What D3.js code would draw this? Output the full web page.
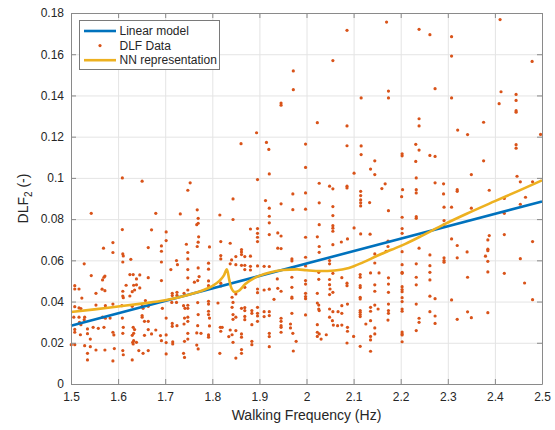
<!DOCTYPE html>
<html lang="en">

<head>
    <script src="https://d3js.org/d3.v7.min.js"></script>
    <meta charset="utf-8" />
    <style>
        body { margin: 0; background: #fff; }
        text { font-family: "Liberation Sans", Arial, Helvetica, sans-serif; fill: #262626; }
    </style>
</head>

<body>
    <script>

        const w = 555;
        const h = 430;
        const margin = { top: 13, right: 13, bottom: 46, left: 71 };

        // axis ticks
        const xTicks = [1.5, 1.6, 1.7, 1.8, 1.9, 2.0, 2.1, 2.2, 2.3, 2.4, 2.5];
        const yTicks = [0, 0.02, 0.04, 0.06, 0.08, 0.1, 0.12, 0.14, 0.16, 0.18];

        // linear model end points
        const linFreq = [1.5, 2.5];
        const linDlf = [0.0283, 0.0886];

        // NN representation
        const nnFreq = [1.5, 1.55, 1.6, 1.65, 1.7, 1.75, 1.78, 1.8, 1.815, 1.825, 1.831, 1.836, 1.84, 1.848, 1.856,
            1.87, 1.89, 1.92, 1.95, 1.98, 2.0, 2.03, 2.06, 2.09, 2.12, 2.15, 2.18, 2.21, 2.25, 2.29, 2.34, 2.4, 2.45, 2.5];
        const nnDlf = [0.0349, 0.0362, 0.0376, 0.0390, 0.0406, 0.0433, 0.0455, 0.0475, 0.0500, 0.0528, 0.0557, 0.0505,
            0.0468, 0.0446, 0.0452, 0.0485, 0.0515, 0.0540, 0.0553, 0.0556, 0.0552, 0.0548, 0.0551, 0.0563, 0.0590,
            0.0622, 0.0651, 0.0680, 0.0725, 0.0772, 0.0826, 0.0887, 0.0937, 0.0988];

        // DLF data [frequency, dlf]
        const dlfData = [
            [1.609, 0.1000], [1.651, 0.0984], [1.543, 0.0828], [1.609, 0.0749], [1.589, 0.0686], [1.569, 0.0659],
            [1.589, 0.0638], [1.610, 0.0631], [1.611, 0.0621], [1.610, 0.0592], [1.627, 0.0605], [1.664, 0.0662],
            [1.528, 0.0583], [1.543, 0.0526], [1.572, 0.0524], [1.570, 0.0518], [1.567, 0.0505], [1.625, 0.0531],
            [1.632, 0.0531], [1.646, 0.0529], [1.639, 0.0510], [1.664, 0.0516], [1.508, 0.0477], [1.508, 0.0461],
            [1.517, 0.0461], [1.566, 0.0460], [1.572, 0.0453], [1.617, 0.0479], [1.633, 0.0479], [1.639, 0.0481],
            [1.635, 0.0456], [1.630, 0.0448], [1.646, 0.0466], [1.610, 0.0450], [1.610, 0.0427], [1.625, 0.0427],
            [1.611, 0.0419], [1.523, 0.0417], [1.553, 0.0440], [1.658, 0.0405], [1.508, 0.0375], [1.517, 0.0369],
            [1.521, 0.0366], [1.553, 0.0383], [1.573, 0.0380], [1.589, 0.0388], [1.608, 0.0380], [1.630, 0.0377],
            [1.651, 0.0377], [1.653, 0.0367], [1.664, 0.0377], [1.506, 0.0324], [1.517, 0.0324], [1.529, 0.0324],
            [1.528, 0.0312], [1.567, 0.0324], [1.573, 0.0319], [1.583, 0.0320], [1.609, 0.0320], [1.651, 0.0332],
            [1.651, 0.0324], [1.656, 0.0304], [1.664, 0.0304], [1.518, 0.0299], [1.521, 0.0288], [1.547, 0.0275],
            [1.558, 0.0270], [1.570, 0.0275], [1.508, 0.0265], [1.508, 0.0251], [1.535, 0.0267], [1.589, 0.0251],
            [1.611, 0.0275], [1.632, 0.0275], [1.635, 0.0264], [1.610, 0.0246], [1.633, 0.0246], [1.520, 0.0239],
            [1.535, 0.0244], [1.591, 0.0238], [1.541, 0.0218], [1.630, 0.0236], [1.656, 0.0236], [1.664, 0.0264],
            [1.633, 0.0210], [1.631, 0.0202], [1.639, 0.0202], [1.632, 0.0194], [1.5005, 0.0191], [1.508, 0.0191],
            [1.529, 0.0186], [1.541, 0.0181], [1.553, 0.0165], [1.572, 0.0165], [1.592, 0.0172], [1.610, 0.0162],
            [1.644, 0.0162], [1.664, 0.0162], [1.535, 0.0149], [1.611, 0.0142], [1.653, 0.0149], [1.535, 0.0117],
            [1.589, 0.0112], [1.630, 0.0117],
            [1.753, 0.0976], [1.748, 0.0940], [1.680, 0.0828], [1.732, 0.0825], [1.768, 0.0845], [1.770, 0.0804],
            [1.770, 0.0780], [1.767, 0.0773], [1.816, 0.0820], [1.671, 0.0748], [1.702, 0.0738], [1.702, 0.0696],
            [1.771, 0.0714], [1.770, 0.0688], [1.768, 0.0667], [1.745, 0.0678], [1.748, 0.0638], [1.748, 0.0607],
            [1.794, 0.0665], [1.692, 0.0670], [1.692, 0.0644], [1.692, 0.0592], [1.724, 0.0599], [1.726, 0.0579],
            [1.712, 0.0555], [1.748, 0.0555], [1.770, 0.0563], [1.792, 0.0586], [1.792, 0.0557], [1.818, 0.0691],
            [1.818, 0.0623], [1.818, 0.0607], [1.838, 0.0683], [1.692, 0.0502], [1.748, 0.0515], [1.762, 0.0494],
            [1.769, 0.0502], [1.772, 0.0521], [1.792, 0.0500], [1.792, 0.0477], [1.818, 0.0489], [1.818, 0.0476],
            [1.715, 0.0440], [1.715, 0.0429], [1.725, 0.0445], [1.725, 0.0430], [1.740, 0.0440], [1.748, 0.0456],
            [1.694, 0.0367], [1.714, 0.0396], [1.724, 0.0396], [1.739, 0.0380], [1.748, 0.0382], [1.748, 0.0367],
            [1.742, 0.0367], [1.769, 0.0395], [1.792, 0.0401], [1.792, 0.0388], [1.812, 0.0393], [1.770, 0.0337],
            [1.792, 0.0353], [1.792, 0.0337], [1.794, 0.0320], [1.702, 0.0320], [1.741, 0.0320], [1.748, 0.0324],
            [1.715, 0.0294], [1.715, 0.0280], [1.725, 0.0283], [1.740, 0.0291], [1.748, 0.0304], [1.769, 0.0283],
            [1.794, 0.0282], [1.817, 0.0275], [1.821, 0.0275], [1.818, 0.0256], [1.680, 0.0262], [1.671, 0.0243],
            [1.690, 0.0235], [1.702, 0.0238], [1.692, 0.0210], [1.702, 0.0201], [1.716, 0.0204], [1.716, 0.0194],
            [1.741, 0.0207], [1.748, 0.0246], [1.748, 0.0218], [1.767, 0.0248], [1.776, 0.0246], [1.792, 0.0238],
            [1.792, 0.0227], [1.835, 0.0230], [1.702, 0.0146], [1.739, 0.0149], [1.741, 0.0129], [1.767, 0.0189],
            [1.770, 0.0170], [1.816, 0.0149],
            [1.896, 0.0992], [1.921, 0.1019], [1.844, 0.0898], [1.971, 0.0922], [1.998, 0.0927], [1.913, 0.0890],
            [1.946, 0.0874], [1.921, 0.0853], [1.921, 0.0814], [1.921, 0.0782], [1.844, 0.0798], [1.971, 0.0846],
            [1.998, 0.0848], [1.881, 0.0752], [1.896, 0.0754], [1.896, 0.0731], [1.896, 0.0712], [1.896, 0.0691],
            [1.921, 0.0725], [1.939, 0.0733], [1.946, 0.0718], [1.862, 0.0652], [1.862, 0.0641], [1.862, 0.0628],
            [1.850, 0.0618], [1.841, 0.0602], [1.869, 0.0618], [1.881, 0.0620], [1.939, 0.0659], [1.946, 0.0657],
            [1.969, 0.0607], [1.969, 0.0597], [1.998, 0.0712], [1.998, 0.0615], [1.838, 0.0583], [1.850, 0.0579],
            [1.862, 0.0576], [1.869, 0.0576], [1.869, 0.0555], [1.881, 0.0571], [1.881, 0.0553], [1.896, 0.0573],
            [1.910, 0.0571], [1.921, 0.0570], [1.969, 0.0563], [1.998, 0.0573], [1.938, 0.0510], [1.969, 0.0518],
            [1.998, 0.0502], [1.998, 0.0485], [1.842, 0.0421], [1.850, 0.0437], [1.869, 0.0469], [1.896, 0.0461],
            [1.896, 0.0443], [1.910, 0.0456], [1.921, 0.0460], [1.939, 0.0464], [1.946, 0.0450], [1.969, 0.0469],
            [1.969, 0.0422], [1.969, 0.0416], [1.931, 0.0411], [1.998, 0.0440], [1.998, 0.0424], [1.998, 0.0414],
            [1.844, 0.0396], [1.842, 0.0372], [1.862, 0.0367], [1.869, 0.0371], [1.869, 0.0356], [1.884, 0.0356],
            [1.884, 0.0343], [1.896, 0.0372], [1.896, 0.0343], [1.896, 0.0330], [1.910, 0.0351], [1.910, 0.0327],
            [1.921, 0.0351], [1.921, 0.0332], [1.946, 0.0319], [1.969, 0.0343], [1.998, 0.0335], [1.844, 0.0337],
            [1.844, 0.0314], [1.850, 0.0324], [1.869, 0.0328], [1.869, 0.0312], [1.884, 0.0288], [1.896, 0.0304],
            [1.921, 0.0246], [1.921, 0.0230], [1.946, 0.0304], [1.946, 0.0283], [1.946, 0.0275], [1.946, 0.0251],
            [1.966, 0.0291], [1.966, 0.0272], [1.971, 0.0246], [1.978, 0.0207], [1.838, 0.0262], [1.842, 0.0239],
            [1.850, 0.0259], [1.862, 0.0243], [1.844, 0.0202], [1.862, 0.0227], [1.884, 0.0207], [1.884, 0.0191],
            [1.921, 0.0181], [1.972, 0.0160], [1.862, 0.0167], [1.862, 0.0149], [1.850, 0.0126],
            [2.101, 0.1023], [2.145, 0.1016], [2.027, 0.0974], [2.049, 0.0960], [2.056, 0.0947], [2.086, 0.0960],
            [2.086, 0.0951], [2.167, 0.0971], [2.160, 0.0948], [2.115, 0.0935], [2.115, 0.0914], [2.115, 0.0893],
            [2.115, 0.0879], [2.115, 0.0864], [2.134, 0.0880], [2.027, 0.0879], [2.056, 0.0861], [2.056, 0.0817],
            [2.174, 0.0841], [2.027, 0.0773], [2.056, 0.0768], [2.056, 0.0756], [2.056, 0.0741], [2.101, 0.0757],
            [2.115, 0.0728], [2.135, 0.0727], [2.023, 0.0714], [2.087, 0.0704], [2.074, 0.0689], [2.056, 0.0676],
            [2.027, 0.0667], [2.027, 0.0639], [2.169, 0.0644], [2.145, 0.0631], [2.049, 0.0599], [2.049, 0.0583],
            [2.026, 0.0542], [2.026, 0.0508], [2.049, 0.0507], [2.049, 0.0482], [2.056, 0.0537], [2.075, 0.0516],
            [2.086, 0.0489], [2.086, 0.0477], [2.114, 0.0531], [2.114, 0.0518], [2.136, 0.0539], [2.145, 0.0587],
            [2.154, 0.0539], [2.174, 0.0515], [2.050, 0.0461], [2.056, 0.0445], [2.049, 0.0434], [2.023, 0.0440],
            [2.114, 0.0477], [2.114, 0.0468], [2.114, 0.0421], [2.114, 0.0413], [2.145, 0.0481], [2.145, 0.0450],
            [2.174, 0.0485], [2.174, 0.0445], [2.023, 0.0393], [2.026, 0.0383], [2.026, 0.0364], [2.027, 0.0356],
            [2.049, 0.0364], [2.056, 0.0351], [2.067, 0.0351], [2.075, 0.0380], [2.087, 0.0388], [2.075, 0.0343],
            [2.114, 0.0356], [2.114, 0.0348], [2.114, 0.0337], [2.114, 0.0327], [2.136, 0.0372], [2.136, 0.0353],
            [2.145, 0.0383], [2.152, 0.0364], [2.174, 0.0388], [2.174, 0.0356], [2.174, 0.0343], [2.055, 0.0307],
            [2.057, 0.0286], [2.066, 0.0283], [2.075, 0.0286], [2.049, 0.0324], [2.023, 0.0288], [2.023, 0.0251],
            [2.023, 0.0231], [2.027, 0.0243], [2.031, 0.0218], [2.042, 0.0239], [2.087, 0.0275], [2.087, 0.0256],
            [2.100, 0.0231], [2.126, 0.0291], [2.136, 0.0307], [2.136, 0.0231], [2.136, 0.0214], [2.145, 0.0272],
            [2.145, 0.0243], [2.086, 0.0199], [2.114, 0.0183], [2.136, 0.0159],
            [2.233, 0.1000], [2.273, 0.0976], [2.291, 0.0971], [2.204, 0.0943], [2.233, 0.0943], [2.233, 0.0927],
            [2.202, 0.0909], [2.291, 0.0922], [2.320, 0.0943], [2.320, 0.0935], [2.292, 0.0858], [2.308, 0.0858],
            [2.203, 0.0809], [2.233, 0.0812], [2.233, 0.0804], [2.292, 0.0793], [2.292, 0.0773], [2.203, 0.0754],
            [2.203, 0.0731], [2.308, 0.0704], [2.320, 0.0672], [2.341, 0.0641], [2.173, 0.0693], [2.173, 0.0667],
            [2.203, 0.0642], [2.239, 0.0659], [2.262, 0.0626], [2.292, 0.0612], [2.292, 0.0599], [2.292, 0.0591],
            [2.320, 0.0612], [2.203, 0.0579], [2.233, 0.0583], [2.262, 0.0574], [2.203, 0.0542], [2.203, 0.0537],
            [2.262, 0.0542], [2.233, 0.0518], [2.233, 0.0481], [2.262, 0.0505], [2.342, 0.0518], [2.203, 0.0472],
            [2.203, 0.0458], [2.203, 0.0448], [2.203, 0.0419], [2.203, 0.0400], [2.203, 0.0364], [2.203, 0.0353],
            [2.262, 0.0426], [2.273, 0.0414], [2.308, 0.0408], [2.262, 0.0351], [2.273, 0.0330], [2.239, 0.0319],
            [2.239, 0.0299], [2.273, 0.0294], [2.233, 0.0259], [2.320, 0.0314], [2.342, 0.0350], [2.203, 0.0252],
            [2.203, 0.0243], [2.203, 0.0238], [2.203, 0.0205], [2.173, 0.0310], [2.233, 0.0388],
            [2.350, 0.1016], [2.447, 0.1008], [2.454, 0.0981], [2.480, 0.0981], [2.388, 0.0940], [2.420, 0.0900],
            [2.465, 0.0906], [2.350, 0.0853], [2.454, 0.0872], [2.420, 0.0828], [2.388, 0.0720], [2.420, 0.0725],
            [2.480, 0.0691], [2.385, 0.0699], [2.385, 0.0654], [2.385, 0.0647], [2.380, 0.0620], [2.385, 0.0595],
            [2.454, 0.0608], [2.385, 0.0544], [2.420, 0.0537], [2.463, 0.0490], [2.480, 0.0409], [2.350, 0.0322],
            [2.385, 0.0346],
            [2.411, 0.1768], [2.170, 0.1756], [2.239, 0.1721], [2.262, 0.1695], [2.308, 0.1685], [2.086, 0.1716],
            [2.056, 0.1569], [1.972, 0.1519], [2.308, 0.1591], [2.479, 0.1565], [1.972, 0.1428], [2.174, 0.1421],
            [2.273, 0.1433], [2.413, 0.1418], [1.946, 0.1363], [1.946, 0.1353], [2.116, 0.1388], [2.174, 0.1388],
            [2.308, 0.1388], [2.409, 0.1360], [2.445, 0.1405], [2.445, 0.1376], [2.445, 0.1326], [2.445, 0.1319],
            [2.023, 0.1268], [2.086, 0.1252], [2.239, 0.1287], [2.239, 0.1252], [2.321, 0.1232], [2.342, 0.1210],
            [2.376, 0.1270], [2.497, 0.1211], [1.998, 0.1164], [2.086, 0.1156], [2.116, 0.1155], [2.116, 0.1113],
            [2.203, 0.1117], [2.203, 0.1107], [2.232, 0.1163], [2.239, 0.1135], [2.232, 0.1080], [2.262, 0.1109],
            [2.273, 0.1104], [2.445, 0.1161], [2.445, 0.1144], [1.998, 0.1051], [2.136, 0.1043], [2.376, 0.1083],
            [2.145, 0.1083], [1.894, 0.1219], [1.861, 0.1166], [1.915, 0.1172], [1.920, 0.1138]
        ];

        const xScale = d3.scaleLinear()
            .domain([1.5, 2.5])
            .range([margin.left, w - margin.right])

        const yScale = d3.scaleLinear()
            .domain([0, 0.18])
            .range([h - margin.bottom, margin.top])

        const svg = d3.select("body")
            .append("svg")
            .attr("width", w)
            .attr("height", h);

        const axisColor = "#8a8a8a";
        const gridColor = "#e4e4e4";
        const fmtX = d => String(+d.toFixed(1));
        const fmtY = d => String(+d.toFixed(2));

        // grid
        svg.append("g")
            .attr("transform", "translate(0," + (h - margin.bottom) + ")")
            .call(d3.axisBottom(xScale).tickValues(xTicks).tickSize(-(h - margin.top - margin.bottom)).tickFormat(""))
            .call(g => g.select(".domain").remove())
            .call(g => g.selectAll("line").attr("stroke", gridColor))

        svg.append("g")
            .attr("transform", "translate(" + margin.left + ",0)")
            .call(d3.axisLeft(yScale).tickValues(yTicks).tickSize(-(w - margin.left - margin.right)).tickFormat(""))
            .call(g => g.select(".domain").remove())
            .call(g => g.selectAll("line").attr("stroke", gridColor))

        // DLF data points
        svg.append("g")
            .selectAll("circle")
            .data(dlfData)
            .enter()
            .append("circle")
            .attr("cx", d => xScale(d[0]))
            .attr("cy", d => yScale(d[1]))
            .attr("r", 1.6)
            .attr("fill", "#D95319")

        const line = d3.line()
            .x(d => xScale(d[0]))
            .y(d => yScale(d[1]))

        svg.append("path")
            .datum(linFreq.map((f, i) => [f, linDlf[i]]))
            .attr("d", line)
            .attr("fill", "none")
            .attr("stroke", "#0072BD")
            .attr("stroke-width", 2.6)

        svg.append("path")
            .datum(nnFreq.map((f, i) => [f, nnDlf[i]]))
            .attr("d", line.curve(d3.curveMonotoneX))
            .attr("fill", "none")
            .attr("stroke", "#EDB120")
            .attr("stroke-width", 2.6)
            .attr("stroke-linejoin", "round")

        // axes, ticks pointing inwards on all four sides
        const styleAxis = g => {
            g.select(".domain").attr("stroke", axisColor);
            g.selectAll(".tick line").attr("stroke", axisColor);
            g.selectAll(".tick text").style("font-size", "12px").attr("fill", "#262626");
        }

        svg.append("g")
            .attr("transform", "translate(0," + (h - margin.bottom) + ")")
            .call(d3.axisBottom(xScale).tickValues(xTicks).tickFormat(fmtX).tickSizeOuter(0).tickSizeInner(-5).tickPadding(8))
            .call(styleAxis)

        svg.append("g")
            .attr("transform", "translate(0," + margin.top + ")")
            .call(d3.axisTop(xScale).tickValues(xTicks).tickFormat("").tickSizeOuter(0).tickSizeInner(-5))
            .call(styleAxis)

        svg.append("g")
            .attr("transform", "translate(" + margin.left + ",0)")
            .call(d3.axisLeft(yScale).tickValues(yTicks).tickFormat(fmtY).tickSizeOuter(0).tickSizeInner(-5).tickPadding(7))
            .call(styleAxis)

        svg.append("g")
            .attr("transform", "translate(" + (w - margin.right) + ",0)")
            .call(d3.axisRight(yScale).tickValues(yTicks).tickFormat("").tickSizeOuter(0).tickSizeInner(-5))
            .call(styleAxis)

        // axis titles
        svg.append("text")
            .attr("x", (margin.left + w - margin.right) / 2)
            .attr("y", 420)
            .attr("text-anchor", "middle")
            .style("font-size", "14px")
            .text("Walking Frequency (Hz)")

        const yTitle = svg.append("text")
            .attr("transform", "translate(28," + ((margin.top + h - margin.bottom) / 2) + ") rotate(-90)")
            .attr("text-anchor", "middle")
            .style("font-size", "14px")
        yTitle.append("tspan").text("DLF")
        yTitle.append("tspan").attr("dy", 4).style("font-size", "10px").text("2")
        yTitle.append("tspan").attr("dy", -4).text(" (-)")

        // legend
        const legend = svg.append("g")
        legend.append("rect")
            .attr("x", 79.5)
            .attr("y", 20.5)
            .attr("width", 140)
            .attr("height", 49)
            .attr("fill", "#fff")
            .attr("stroke", "#7a7a7a")

        const legendItems = ["Linear model", "DLF Data", "NN representation"];
        const legendColors = ["#0072BD", "#D95319", "#EDB120"];
        legendItems.forEach((label, i) => {
            const ly = 31 + i * 14.6;
            if (i === 1) {
                legend.append("circle").attr("cx", 100).attr("cy", ly).attr("r", 1.6).attr("fill", legendColors[i]);
            } else {
                legend.append("line")
                    .attr("x1", 84).attr("x2", 116).attr("y1", ly).attr("y2", ly)
                    .attr("stroke", legendColors[i]).attr("stroke-width", 2.6);
            }
            legend.append("text")
                .attr("x", 119.5)
                .attr("y", ly + 4.2)
                .style("font-size", "12px")
                .text(label);
        });

    </script>
</body>

</html>
